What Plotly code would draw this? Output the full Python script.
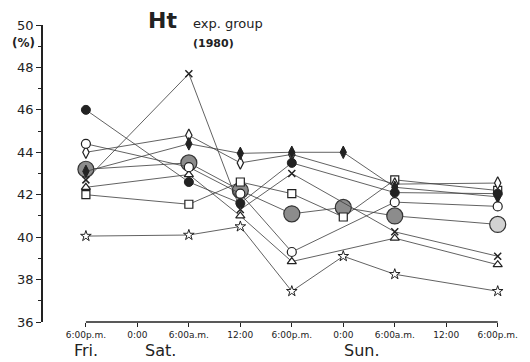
import plotly.graph_objects as go

# hours after Friday 6:00 p.m.
hours = [0, 12, 18, 24, 30, 36, 48]
tick_hours = [0, 6, 12, 18, 24, 30, 36, 42, 48]
tick_labels = ["6:00p.m.", "0:00", "6:00a.m.", "12:00", "6:00p.m.", "0:00", "6:00a.m.", "12:00", "6:00p.m."]
day_labels = ["Fri.", "Sat.", "Sun."]
day_hours = [0, 8.7, 32.2]

hatched = [43.2, 43.5, 42.2, 41.1, 41.4, 41.0, 40.6]
filled_circle = [46.0, 42.6, 41.6, 43.5, None, 42.1, 42.05]
open_circle = [44.4, 43.3, 42.05, 39.3, None, 41.65, 41.45]
open_diamond = [44.0, 44.8, 43.5, 43.9, None, 42.5, 42.55]
filled_diamond = [43.1, 44.4, 43.95, 44.0, 44.0, 42.35, 41.9]
cross = [42.7, 47.7, 41.3, 43.0, None, 40.25, 39.1]
triangle = [42.35, 42.95, 41.0, 38.85, None, 39.95, 38.7]
square = [42.0, 41.55, 42.6, 42.05, 40.95, 42.7, 42.2]
star = [40.05, 40.1, 40.5, 37.45, 39.1, 38.25, 37.45]

X_RANGE = [-5, 48.5]
Y_RANGE = [36, 50]

LINE = dict(color="#3a3a3a", width=0.8)
INK = "#222222"

series = [
    (hatched, dict(symbol="circle", size=16,
                   color=["#8c8c8c"] * 6 + ["#d2d2d2"],
                   line=dict(color="#333", width=1.2))),
    (square, dict(symbol="square", size=8, color="white", line=dict(color=INK, width=1.2))),
    (star, dict(symbol="star", size=8, color="white", line=dict(color=INK, width=1))),
    (triangle, dict(symbol="triangle-up", size=8, color="white", line=dict(color=INK, width=1.2))),
    (cross, dict(symbol="x-thin", size=7, color=INK, line=dict(color=INK, width=1.5))),
    (open_diamond, dict(symbol="diamond-tall", size=9, color="white", line=dict(color=INK, width=1.2))),
    (filled_diamond, dict(symbol="diamond-tall", size=9, color=INK, line=dict(color=INK, width=1))),
    (open_circle, dict(symbol="circle", size=9, color="white", line=dict(color=INK, width=1.2))),
    (filled_circle, dict(symbol="circle", size=9, color=INK, line=dict(color=INK, width=1))),
]

fig = go.Figure()
for vals, mk in series:
    fig.add_trace(go.Scatter(x=hours, y=vals, mode="lines+markers",
                             connectgaps=True, line=LINE, marker=mk,
                             showlegend=False, cliponaxis=False))

FONT = "DejaVu Sans"
fig.update_layout(
    width=530, height=362,
    margin=dict(l=43, r=15, t=25, b=40),
    paper_bgcolor="white", plot_bgcolor="white",
    font=dict(family=FONT, color=INK),
    xaxis=dict(range=X_RANGE, showgrid=False, zeroline=False, showline=False,
               tickmode="array", tickvals=tick_hours, ticktext=tick_labels,
               ticks="outside", ticklen=4, tickcolor=INK, tickwidth=1.2,
               ticklabeloverflow="allow",
               tickfont=dict(size=9, family=FONT, color=INK)),
    yaxis=dict(range=Y_RANGE, showgrid=False, zeroline=False, showline=True,
               linecolor=INK, linewidth=1.5, ticks="outside", ticklen=5,
               tickcolor=INK, tickwidth=1.2, dtick=2,
               minor=dict(dtick=1, ticks="outside", ticklen=3, tickcolor=INK),
               tickfont=dict(size=13, family=FONT, color=INK)),
    shapes=[dict(type="line", xref="x", yref="paper", x0=0, x1=48, y0=0, y1=0,
                 line=dict(color=INK, width=1.5))],
)


def px(h):
    return (h - X_RANGE[0]) / (X_RANGE[1] - X_RANGE[0])


def py(v):
    return (v - Y_RANGE[0]) / (Y_RANGE[1] - Y_RANGE[0])


ann = [
    dict(x=px(8.95), y=py(50.2), text="<b>Ht</b>", font=dict(size=22)),
    dict(x=px(12.2), y=py(50.05), text="exp. group", xanchor="left", font=dict(size=13)),
    dict(x=px(12.2), y=py(49.15), text="<b>(1980)</b>", xanchor="left", font=dict(size=11)),
    dict(x=px(-7.3), y=py(49.15), text="<b>(%)</b>", font=dict(size=12)),
]
for t, h in zip(day_labels, day_hours):
    ann.append(dict(x=px(h), y=py(34.65), text=t, font=dict(size=16)))
for a in ann:
    a.update(xref="paper", yref="paper", showarrow=False, yanchor="middle")
    a.setdefault("xanchor", "center")
    a["font"].update(family=FONT, color=INK)
    fig.add_annotation(**a)

fig.write_html("out.html", config={"displayModeBar": False},
               post_script="document.body.style.margin='0';")
